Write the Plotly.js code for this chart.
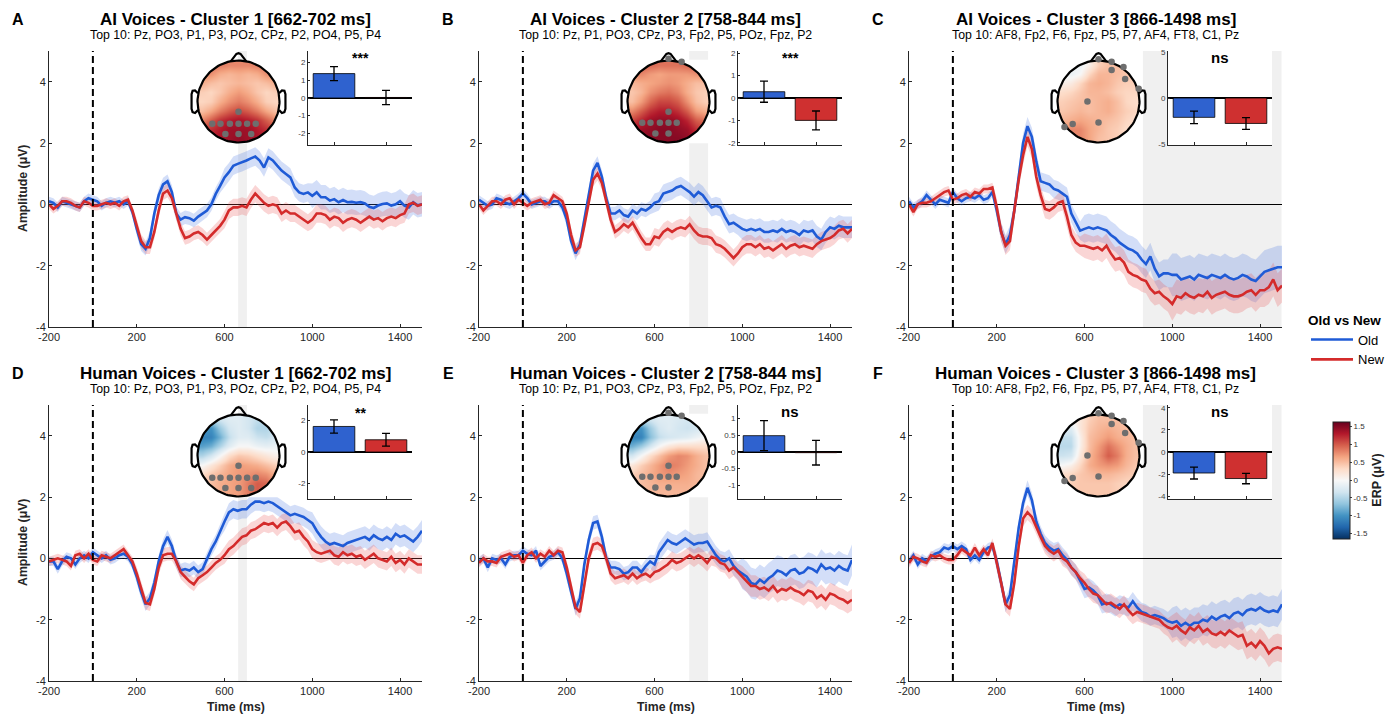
<!DOCTYPE html>
<html><head><meta charset="utf-8">
<script src="https://cdn.plot.ly/plotly-3.0.1.min.js"></script>
<style>html,body{margin:0;padding:0;background:#fff}</style>
</head><body><div id="chart" style="width:1399px;height:714px"></div>
<script>
const FONT = '"Liberation Sans", Arial, Helvetica, sans-serif';
const W = 1399, H = 714;

// ---------- time axis (ms) ----------
const time = [-200,-180,-160,-140,-120,-100,-80,-60,-40,-20,0,20,40,60,80,100,120,140,160,180,200,220,240,260,280,300,320,340,360,380,400,420,440,460,480,500,520,540,560,580,600,620,640,660,680,700,720,740,760,780,800,820,840,860,880,900,920,940,960,980,1000,1020,1040,1060,1080,1100,1120,1140,1160,1180,1200,1220,1240,1260,1280,1300,1320,1340,1360,1380,1400,1420,1440,1460,1480,1500];

// ---------- ERP means (µV) ----------
const oldA = [0.1,0.05,-0.1,0.1,0.05,0,-0.05,-0.1,0.1,0.2, 0.15,0.1,-0.05,0.05,0.1,0.05,0.1,0,0.1,-0.25, -0.8,-1.3,-1.45,-1.1,-0.3,0.3,0.65,0.75,0.4,-0.3, -0.5,-0.42,-0.45,-0.53,-0.4,-0.3,-0.2,0,0.34,0.6, 0.88,1.05,1.26,1.32,1.37,1.43,1.5,1.56,1.43,1.2, 1.53,1.43,1.26,1.1,0.99,0.88,0.55,0.39,0.34,0.39, 0.28,0.39,0.23,0.23,0.12,0.17,0.07,0.14,0.07,0.08, 0.05,0.07,0.03,-0.08,-0.12,-0.04,0.01,0.03,-0.04,0, 0.1,-0.04,-0.1,0.07,-0.03,0];
const newA = [0,-0.15,-0.05,0.1,0.1,0.05,-0.05,-0.1,0.1,0.05, -0.05,-0.05,0,0.05,0,0.05,-0.05,0.1,0.15,-0.2, -0.7,-1.2,-1.4,-1.4,-0.9,-0.2,0.35,0.45,0.2,-0.3, -0.8,-1.1,-1.05,-0.95,-0.9,-1.0,-1.15,-1.0,-0.85,-0.7, -0.5,-0.2,-0.1,-0.1,-0.05,-0.1,0.15,0.35,0.2,0.05, -0.05,0,-0.05,-0.3,-0.2,-0.3,-0.3,-0.4,-0.5,-0.6, -0.5,-0.3,-0.3,-0.35,-0.5,-0.4,-0.45,-0.6,-0.5,-0.45, -0.5,-0.6,-0.5,-0.4,-0.5,-0.45,-0.55,-0.45,-0.4,-0.45, -0.35,-0.3,0,0.05,-0.05,0];
const oldB = [0.15,0.05,-0.05,0,0.2,0.15,0.05,0,0.1,0.2, 0.35,0.2,0,0.05,0.1,0.1,0,0.1,0.1,-0.1, -0.5,-1.2,-1.6,-1.3,-0.5,0.4,1.1,1.35,0.9,0.2, -0.3,-0.3,-0.2,-0.35,-0.4,-0.2,-0.3,-0.15,-0.2,-0.1, 0.05,0.1,0.35,0.4,0.45,0.55,0.6,0.5,0.4,0.25, 0.4,0.3,0.1,-0.1,-0.05,-0.1,-0.4,-0.65,-0.6,-0.7, -0.8,-0.85,-0.8,-0.85,-0.8,-0.9,-0.9,-0.85,-0.9,-0.8, -0.9,-0.85,-0.9,-1.0,-0.85,-0.9,-0.85,-1.05,-1.15,-0.9, -0.75,-0.8,-0.7,-0.75,-0.75,-0.75];
const newB = [0,-0.2,-0.05,0.1,0.1,0,0.15,0.2,0,0.15, 0.05,-0.05,0.05,0.1,0.15,0,0.05,0.3,0.2,0.1, -0.3,-1.0,-1.5,-1.4,-0.7,0.1,0.8,1.0,0.7,0.1, -0.5,-0.9,-0.8,-0.65,-0.75,-0.6,-0.85,-1.1,-1.3,-1.3, -1.05,-1.1,-0.9,-0.8,-0.9,-0.8,-0.75,-0.8,-0.65,-0.85, -1.0,-1.05,-1.05,-1.1,-1.3,-1.35,-1.45,-1.6,-1.75,-1.6, -1.4,-1.3,-1.3,-1.4,-1.3,-1.45,-1.4,-1.5,-1.4,-1.3, -1.45,-1.35,-1.3,-1.4,-1.35,-1.4,-1.45,-1.3,-1.2,-1.15, -1.1,-1.0,-0.85,-0.8,-0.95,-0.8];
const oldC = [0.1,-0.1,0,0.1,0.3,0.15,0,0.15,0.1,0.05, 0.4,0.2,0.1,0.2,0.25,0.2,0.3,0.15,0.2,0.4, -0.2,-0.9,-1.3,-1.0,-0.2,0.9,2.0,2.55,2.2,1.4, 0.75,0.7,0.65,0.5,0.45,0.35,0.25,-0.3,-0.6,-0.86, -0.8,-0.75,-0.8,-0.75,-0.8,-0.85,-1.0,-1.1,-1.25,-1.35, -1.45,-1.5,-1.6,-1.8,-1.95,-1.7,-2.1,-2.35,-2.25,-2.25, -2.3,-2.3,-2.45,-2.4,-2.35,-2.45,-2.3,-2.35,-2.4,-2.3, -2.35,-2.4,-2.3,-2.4,-2.45,-2.4,-2.3,-2.35,-2.45,-2.5, -2.35,-2.2,-2.15,-2.1,-2.05,-2.05];
const newC = [0,-0.25,0,0.05,0.05,0.1,0.2,0.3,0.4,0.45, 0.15,0.2,0.3,0.35,0.25,0.4,0.35,0.5,0.5,0.55, -0.1,-0.9,-1.35,-1.2,-0.2,0.8,1.6,2.2,1.8,0.9, 0.3,-0.15,-0.2,-0.1,0.05,0.1,-0.4,-1.0,-1.25,-1.35, -1.35,-1.4,-1.45,-1.4,-1.5,-1.35,-1.6,-1.8,-1.75,-1.9, -2.2,-2.3,-2.35,-2.45,-2.5,-2.75,-2.9,-2.85,-3.0,-3.1, -3.25,-3.0,-3.05,-2.9,-3.0,-3.05,-2.95,-3.0,-2.85,-3.05, -2.95,-2.9,-2.85,-2.95,-3.0,-3.0,-2.95,-2.85,-2.8,-2.95, -2.8,-2.8,-2.7,-2.45,-2.8,-2.65];
const oldD = [-0.1,-0.1,-0.35,-0.1,0.05,0,-0.2,0,0.1,0, 0.2,0.1,0,0.1,-0.05,0,0.1,0.15,0.05,-0.2, -0.6,-1.1,-1.5,-1.3,-0.8,-0.1,0.4,0.7,0.4,-0.1, -0.4,-0.35,-0.4,-0.3,-0.45,-0.35,0,0.3,0.55,0.9, 1.2,1.5,1.6,1.55,1.6,1.6,1.75,1.85,1.85,1.8, 1.85,1.8,1.7,1.6,1.5,1.4,1.45,1.4,1.35,1.25, 1.15,0.9,0.7,0.55,0.45,0.5,0.45,0.4,0.5,0.55, 0.6,0.65,0.7,0.6,0.75,0.65,0.6,0.7,0.6,0.8, 0.7,0.75,0.65,0.55,0.7,0.9];
const newD = [-0.1,-0.05,0,-0.05,-0.1,-0.25,0.1,0.15,0,0.15, -0.05,-0.1,0.1,0.05,0,0.1,0.2,0.3,0.1,-0.1, -0.5,-1.0,-1.45,-1.5,-1.0,-0.3,0.1,0.15,0.15,-0.1, -0.45,-0.6,-0.75,-0.85,-0.65,-0.55,-0.45,-0.3,-0.15,-0.05, 0.1,0.3,0.4,0.55,0.7,0.75,0.9,0.95,1.05,1.15, 1.1,1.15,1.0,1.15,1.2,1.05,0.85,0.9,0.7,0.55, 0.3,0.2,0.15,0.2,0.25,0.1,0.05,0.2,0.1,0.15, 0.05,0.1,-0.05,0.05,0.15,0,-0.05,-0.1,0.05,-0.15, -0.05,-0.2,0,-0.1,-0.2,-0.2];
const oldE = [-0.1,0,-0.3,0,-0.05,0,-0.2,0.05,0.1,0.1, 0.25,0.15,0.1,0.25,-0.25,-0.1,0.05,0.1,0.2,0, -0.5,-1.1,-1.65,-1.3,-0.2,0.6,1.15,1.2,0.7,0, -0.3,-0.3,-0.35,-0.5,-0.45,-0.3,-0.3,-0.45,-0.25,-0.1, -0.2,0.2,0.4,0.6,0.5,0.45,0.55,0.65,0.55,0.45, 0.5,0.5,0.55,0.3,0.1,-0.05,-0.1,0,-0.25,-0.4, -0.5,-0.6,-0.8,-0.85,-0.7,-0.8,-0.65,-0.55,-0.4,-0.45, -0.55,-0.4,-0.35,-0.5,-0.45,-0.3,-0.35,-0.45,-0.2,-0.35, -0.3,-0.4,-0.25,-0.35,-0.4,-0.05];
const newE = [-0.15,0,-0.1,-0.1,-0.15,0.05,0.1,0.15,0.05,0.1, -0.15,0.1,0.2,0,0.15,0.05,0.25,0.1,0.25,0.2, -0.3,-1.0,-1.6,-1.75,-0.9,0,0.45,0.5,0.4,0, -0.5,-0.65,-0.6,-0.55,-0.65,-0.5,-0.65,-0.55,-0.5,-0.6, -0.45,-0.4,-0.3,-0.2,-0.05,-0.15,-0.1,0,0.1,0, 0.1,0,-0.15,0.05,0,-0.15,-0.2,-0.4,-0.3,-0.45, -0.6,-0.75,-0.9,-0.9,-1.0,-0.95,-1.05,-0.9,-1.1,-1.0, -1.05,-0.95,-1.05,-1.1,-1.2,-1.05,-1.1,-1.3,-1.2,-1.35, -1.15,-1.2,-1.3,-1.35,-1.45,-1.35];
const oldF = [-0.1,0.1,-0.2,0,-0.1,0.05,0.15,0.2,0.35,0.3, 0.4,0.3,0.4,0.3,-0.05,0.1,-0.05,0.2,0.35,0.4, -0.1,-0.8,-1.5,-1.2,-0.1,1.0,1.8,2.3,1.9,1.2, 0.8,0.5,0.35,0.25,0.3,0.1,-0.05,-0.3,-0.45,-0.75, -1.0,-0.95,-1.05,-1.2,-1.5,-1.45,-1.5,-1.6,-1.5,-1.55, -1.6,-1.4,-1.6,-1.75,-1.8,-1.9,-1.85,-1.9,-1.95,-2.05, -2.1,-2.05,-2.2,-2.1,-2.2,-2.1,-2.1,-2.0,-2.05,-1.9, -2.0,-1.9,-1.85,-1.95,-1.8,-1.75,-1.85,-1.7,-1.65,-1.7, -1.6,-1.7,-1.75,-1.7,-1.75,-1.5];
const newF = [-0.15,0.05,0,-0.1,-0.15,0.1,0.05,0.1,0,-0.05, -0.05,0.1,0.3,0.2,0.1,0.35,0.1,0.3,0.1,0.5, -0.1,-0.8,-1.5,-1.65,-0.8,0.4,1.3,1.5,1.35,1.0, 0.7,0.4,0.25,0.15,0.25,0,-0.1,-0.3,-0.45,-0.65, -0.8,-1.0,-1.15,-1.2,-1.35,-1.5,-1.45,-1.55,-1.65,-1.5, -1.7,-1.85,-1.75,-1.8,-1.85,-1.9,-1.95,-2.0,-2.15,-2.25, -2.3,-2.2,-2.35,-2.45,-2.25,-2.35,-2.2,-2.4,-2.3,-2.45, -2.5,-2.4,-2.5,-2.35,-2.45,-2.55,-2.5,-2.85,-2.75,-2.9, -2.7,-2.85,-3.1,-2.95,-2.9,-2.95];

// ---------- confidence half-widths, per time window starting at ----------
const ciWindowStart = [-200, 200, 600, 1000];
const ciOldA = [0.15,0.22,0.3,0.4],  ciNewA = [0.15,0.22,0.28,0.3];
const ciOldB = [0.15,0.22,0.3,0.35], ciNewB = [0.15,0.22,0.28,0.3];
const ciOldC = [0.15,0.3,0.45,0.7],  ciNewC = [0.15,0.3,0.4,0.55];
const ciOldD = [0.15,0.22,0.3,0.35], ciNewD = [0.15,0.22,0.28,0.3];
const ciOldE = [0.15,0.22,0.3,0.5],  ciNewE = [0.15,0.22,0.28,0.35];
const ciOldF = [0.15,0.25,0.3,0.5],  ciNewF = [0.15,0.25,0.3,0.45];

// ---------- panel text & cluster windows ----------
const panelLetters = ['A','B','C','D','E','F'];
const panelTitles = ['AI Voices - Cluster 1 [662-702 ms]','AI Voices - Cluster 2 [758-844 ms]','AI Voices - Cluster 3 [866-1498 ms]','Human Voices - Cluster 1 [662-702 ms]','Human Voices - Cluster 2 [758-844 ms]','Human Voices - Cluster 3 [866-1498 ms]'];
const panelSubtitles = ['Top 10: Pz, PO3, P1, P3, POz, CPz, P2, PO4, P5, P4','Top 10: Pz, P1, PO3, CPz, P3, Fp2, P5, POz, Fpz, P2','Top 10: AF8, Fp2, F6, Fpz, P5, P7, AF4, FT8, C1, Pz','Top 10: Pz, PO3, P1, P3, POz, CPz, P2, PO4, P5, P4','Top 10: Pz, P1, PO3, CPz, P3, Fp2, P5, POz, Fpz, P2','Top 10: AF8, Fp2, F6, Fpz, P5, P7, AF4, FT8, C1, Pz'];
const windowStart = [662, 758, 866, 662, 758, 866];
const windowEnd   = [702, 844, 1498, 702, 844, 1498];

// ---------- inset bar values ----------
const barOld    = [1.38, 0.28, -2.1, 1.63, 0.49, -1.9];
const barOldErr = [0.40, 0.47, 0.67, 0.42, 0.45, 0.54];
const barNew    = [0.03, -1.0, -2.76, 0.78, -0.02, -2.4];
const barNewErr = [0.40, 0.42, 0.64, 0.41, 0.37, 0.47];
const sigLabels = ['***','***','ns','**','ns','ns'];
const insetLimit = [2.66, 2.1, 5.1, 3.0, 1.41, 4.25];
const insetTicks = [[-2,-1,0,1,2],[-2,-1,0,1,2],[-5,0,5],[-2,0,2],[-1,-0.5,0,0.5,1],[-4,-2,0,2,4]];
const insetTickText = [['-2','-1','0','1','2'],['-2','-1','0','1','2'],['-5','0','5'],['-2','0','2'],['-1','-0.5','0','0.5','1'],['-4','-2','0','2','4']];

// ---------- topography grids (rows front -> back, cols left -> right) ----------
const topoEdges = [-1,-0.7778,-0.5556,-0.3333,-0.1111,0.1111,0.3333,0.5556,0.7778,1];
const topoA = [
 [0.9,0.9,0.85,0.8,0.8,0.8,0.85,0.9,0.9],
 [0.8,0.75,0.6,0.55,0.6,0.55,0.6,0.75,0.8],
 [0.6,0.5,0.45,0.5,0.55,0.5,0.45,0.5,0.6],
 [0.4,0.35,0.45,0.6,0.7,0.6,0.45,0.35,0.4],
 [0.35,0.4,0.6,0.75,0.85,0.75,0.6,0.4,0.35],
 [0.5,0.65,0.85,1.0,1.1,1.0,0.85,0.65,0.5],
 [0.8,1.0,1.2,1.3,1.35,1.3,1.2,1.0,0.8],
 [1.1,1.2,1.3,1.4,1.4,1.4,1.3,1.2,1.1],
 [1.2,1.3,1.35,1.4,1.45,1.4,1.35,1.3,1.2]];
const topoB = [
 [1.0,1.0,0.95,0.9,0.9,0.9,0.95,1.0,1.0],
 [0.8,0.8,0.7,0.65,0.7,0.7,0.7,0.75,0.8],
 [0.55,0.6,0.65,0.7,0.75,0.7,0.6,0.5,0.5],
 [0.45,0.55,0.75,0.85,0.9,0.8,0.6,0.45,0.4],
 [0.5,0.7,0.95,1.1,1.1,1.0,0.75,0.5,0.4],
 [0.8,1.0,1.2,1.3,1.3,1.2,1.0,0.7,0.6],
 [1.1,1.25,1.4,1.45,1.45,1.4,1.25,1.0,0.9],
 [1.3,1.4,1.45,1.5,1.5,1.45,1.4,1.2,1.1],
 [1.35,1.45,1.5,1.5,1.5,1.5,1.45,1.3,1.2]];
const topoC = [
 [0.0,-0.1,-0.1,0.1,0.4,0.5,0.5,0.5,0.5],
 [-0.05,-0.1,0.0,0.35,0.55,0.55,0.5,0.45,0.45],
 [0.1,0.15,0.35,0.55,0.6,0.55,0.45,0.4,0.4],
 [0.3,0.35,0.45,0.55,0.55,0.5,0.4,0.35,0.35],
 [0.4,0.45,0.5,0.5,0.55,0.6,0.5,0.35,0.3],
 [0.45,0.5,0.55,0.5,0.55,0.6,0.5,0.4,0.35],
 [0.55,0.6,0.65,0.6,0.55,0.5,0.45,0.35,0.3],
 [0.7,0.8,0.8,0.65,0.55,0.45,0.4,0.3,0.3],
 [0.7,0.8,0.8,0.65,0.5,0.45,0.4,0.3,0.3]];
const topoD = [
 [-0.6,-0.5,-0.3,-0.2,-0.2,-0.3,-0.4,-0.5,-0.5],
 [-0.9,-1.0,-0.6,-0.3,-0.2,-0.3,-0.5,-0.5,-0.4],
 [-1.1,-1.1,-0.8,-0.4,-0.2,-0.2,-0.35,-0.4,-0.3],
 [-0.9,-0.8,-0.5,-0.2,0.0,0.0,-0.1,-0.15,-0.1],
 [-0.5,-0.3,0.0,0.3,0.45,0.4,0.3,0.2,0.1],
 [0.0,0.2,0.4,0.6,0.7,0.65,0.6,0.5,0.4],
 [0.3,0.45,0.55,0.65,0.7,0.75,0.8,0.75,0.6],
 [0.4,0.5,0.6,0.65,0.7,0.85,1.0,0.95,0.7],
 [0.4,0.5,0.6,0.65,0.7,0.85,1.0,0.9,0.7]];
const topoE = [
 [-0.5,-0.4,-0.3,-0.2,-0.2,-0.25,-0.3,-0.3,-0.3],
 [-0.9,-1.0,-0.6,-0.3,-0.2,-0.3,-0.35,-0.3,-0.2],
 [-1.1,-1.1,-0.7,-0.4,-0.3,-0.25,-0.2,-0.1,0.0],
 [-0.8,-0.6,-0.3,0.0,0.2,0.3,0.3,0.3,0.3],
 [-0.3,0.0,0.3,0.5,0.7,0.8,0.75,0.6,0.5],
 [0.2,0.4,0.55,0.7,0.85,0.8,0.7,0.6,0.5],
 [0.4,0.5,0.6,0.7,0.75,0.7,0.65,0.55,0.5],
 [0.45,0.5,0.55,0.6,0.6,0.6,0.6,0.55,0.5],
 [0.45,0.5,0.55,0.55,0.55,0.55,0.55,0.5,0.5]];
const topoF = [
 [-0.1,0.1,0.2,0.4,0.5,0.5,0.5,0.5,0.5],
 [-0.2,-0.2,0.2,0.45,0.55,0.6,0.55,0.5,0.5],
 [-0.4,-0.4,0.1,0.5,0.6,0.7,0.6,0.55,0.5],
 [-0.45,-0.45,0.1,0.5,0.7,0.9,0.75,0.6,0.5],
 [-0.35,-0.3,0.2,0.55,0.75,1.0,0.85,0.6,0.5],
 [0.0,0.1,0.35,0.6,0.7,0.75,0.7,0.55,0.45],
 [0.3,0.35,0.45,0.5,0.55,0.55,0.5,0.45,0.4],
 [0.4,0.4,0.45,0.45,0.45,0.45,0.4,0.35,0.35],
 [0.4,0.4,0.45,0.45,0.45,0.45,0.4,0.35,0.35]];

// ---------- cluster electrodes (head radius = 1) ----------
const elecC1X = [0,-0.64,-0.44,-0.21,0,0.21,0.42,-0.32,0,0.31];
const elecC1Y = [-0.25,-0.54,-0.54,-0.54,-0.54,-0.54,-0.54,-0.79,-0.79,-0.79];
const elecC2X = [0,0.32,0,-0.64,-0.44,-0.21,0,0.2,-0.32,0];
const elecC2Y = [1.04,0.97,-0.25,-0.52,-0.52,-0.52,-0.52,-0.52,-0.78,-0.78];
const elecC3X = [0,0.32,0.61,0.32,0.65,0.98,-0.27,0,-0.63,-0.83];
const elecC3Y = [1.03,0.97,0.84,0.77,0.55,0.31,0,-0.51,-0.55,-0.62];

const erpScale = [[0,'#053061'],[0.1,'#2166ac'],[0.2,'#4393c3'],[0.3,'#92c5de'],[0.4,'#d1e5f0'],[0.5,'#f7f7f7'],[0.6,'#fddbc7'],[0.7,'#f4a582'],[0.8,'#d6604d'],[0.9,'#b2182b'],[1,'#67001f']];
const erpLimit = 1.64;

const oldSeries = [oldA,oldB,oldC,oldD,oldE,oldF];
const newSeries = [newA,newB,newC,newD,newE,newF];
const ciOldSeries = [ciOldA,ciOldB,ciOldC,ciOldD,ciOldE,ciOldF];
const ciNewSeries = [ciNewA,ciNewB,ciNewC,ciNewD,ciNewE,ciNewF];
const topoSeries = [topoA,topoB,topoC,topoD,topoE,topoF];
const elecX = [elecC1X,elecC2X,elecC3X,elecC1X,elecC2X,elecC3X];
const elecY = [elecC1Y,elecC2Y,elecC3Y,elecC1Y,elecC2Y,elecC3Y];

const OLD_LINE = '#1f5bd6', NEW_LINE = '#d42b2b';
const OLD_FILL = 'rgba(70,115,225,0.24)', NEW_FILL = 'rgba(235,80,80,0.24)';
const OLD_BAR = '#2f62cf', NEW_BAR = '#cf3030';
const AXC = '#262626';

function ciAt(vals, t){ let idx = 0; for (let w = 0; w < ciWindowStart.length; w++) if (t >= ciWindowStart[w]) idx = w; return vals[idx]; }
function sfx(n){ return n === 1 ? '' : String(n); }
const fx = p => p / W, fy = p => 1 - p / H;

// head outline geometry
const circX = [], circY = [];
for (let a = 0; a <= 360; a += 3){ circX.push(Math.cos(a*Math.PI/180)); circY.push(Math.sin(a*Math.PI/180)); }
const maskX = [-1.02,1.02,1.02,-1.02,-1.02,null], maskY = [-1.02,-1.02,1.02,1.02,-1.02,null];
for (let a = 0; a >= -360; a -= 3){ maskX.push(Math.cos(a*Math.PI/180)); maskY.push(Math.sin(a*Math.PI/180)); }
const headX = circX.concat([null,-0.19,-0.05,0,0.05,0.19,null,-0.99,-1.06,-1.12,-1.145,-1.145,-1.12,-1.06,-0.99,null,0.99,1.06,1.12,1.145,1.145,1.12,1.06,0.99]);
const headY = circY.concat([null,0.98,1.16,1.18,1.16,0.98,null,0.2,0.27,0.26,0.18,-0.18,-0.26,-0.28,-0.21,null,0.2,0.27,0.26,0.18,-0.18,-0.26,-0.28,-0.21]);

const data = [];
const layout = {
  width: W, height: H, margin: {l:0, r:0, t:0, b:0},
  paper_bgcolor: '#ffffff', plot_bgcolor: 'rgba(0,0,0,0)',
  font: {family: FONT, color: AXC},
  hovermode: false, showlegend: true,
  legend: {x: fx(1306), y: fy(307), xanchor: 'left', yanchor: 'top', bgcolor: 'rgba(0,0,0,0)',
           font: {size: 13, family: FONT, color: '#000'}, tracegroupgap: 0, itemwidth: 42,
           title: {text: '<b>Old vs New</b>', font: {size: 13.5, family: FONT, color: '#000'}}},
  shapes: [], annotations: []
};

for (let i = 0; i < 6; i++){
  const col = i % 3, row = Math.floor(i / 3);
  const L = [49, 479, 909][col], T = [51, 405][row];
  const R = L + 373, B = T + 276;
  const n = i + 1, ni = i + 7, nt = i + 13;
  const xm = 'x' + sfx(n), ym = 'y' + sfx(n);

  layout['xaxis' + sfx(n)] = {domain: [fx(L), fx(R)], anchor: ym, range: [-200, 1500],
    tickvals: [-200,200,600,1000,1400], ticktext: ['-200','200','600','1000','1400'],
    ticks: 'inside', ticklen: 3, tickcolor: AXC, showline: true, linecolor: AXC, linewidth: 1,
    showgrid: false, zeroline: false, tickfont: {size: 11, color: AXC, family: FONT}, fixedrange: true};
  layout['yaxis' + sfx(n)] = {domain: [fy(B), fy(T)], anchor: xm, range: [-4, 5],
    tickvals: [-4,-2,0,2,4], ticktext: ['-4','-2','0','2','4'],
    ticks: 'inside', ticklen: 3, tickcolor: AXC, showline: true, linecolor: AXC, linewidth: 1,
    showgrid: false, zeroline: true, zerolinecolor: '#000', zerolinewidth: 1,
    tickfont: {size: 11, color: AXC, family: FONT}, fixedrange: true};

  // cluster window shading
  layout.shapes.push({type: 'rect', xref: xm, yref: ym, x0: windowStart[i], x1: windowEnd[i], y0: -4, y1: 5,
    fillcolor: '#f0f0f0', line: {width: 0}, layer: 'below'});
  // stimulus onset
  layout.shapes.push({type: 'line', xref: xm, yref: ym, x0: 0, x1: 0, y0: -4, y1: 5,
    line: {color: '#000', width: 2, dash: '7px,4px'}, layer: 'above'});

  const o = oldSeries[i], nw = newSeries[i];
  const tRev = time.slice().reverse();
  const oUp = o.map((v, k) => v + ciAt(ciOldSeries[i], time[k]));
  const oLo = o.map((v, k) => v - ciAt(ciOldSeries[i], time[k])).reverse();
  const nUp = nw.map((v, k) => v + ciAt(ciNewSeries[i], time[k]));
  const nLo = nw.map((v, k) => v - ciAt(ciNewSeries[i], time[k])).reverse();
  data.push({type: 'scatter', mode: 'lines', x: time.concat(tRev), y: oUp.concat(oLo), fill: 'toself',
    fillcolor: OLD_FILL, line: {width: 0}, xaxis: xm, yaxis: ym, showlegend: false, hoverinfo: 'skip'});
  data.push({type: 'scatter', mode: 'lines', x: time.concat(tRev), y: nUp.concat(nLo), fill: 'toself',
    fillcolor: NEW_FILL, line: {width: 0}, xaxis: xm, yaxis: ym, showlegend: false, hoverinfo: 'skip'});
  data.push({type: 'scatter', mode: 'lines', x: time, y: o, name: 'Old', legendgroup: 'old',
    line: {color: OLD_LINE, width: 2.6}, xaxis: xm, yaxis: ym, showlegend: i === 0});
  data.push({type: 'scatter', mode: 'lines', x: time, y: nw, name: 'New', legendgroup: 'new',
    line: {color: NEW_LINE, width: 2.6}, xaxis: xm, yaxis: ym, showlegend: i === 0});

  // ----- inset bar chart -----
  const xi = 'x' + ni, yi = 'y' + ni;
  const lim = insetLimit[i];
  layout['xaxis' + ni] = {domain: [fx(L + 259), fx(L + 363)], anchor: yi, range: [0.5, 2.5],
    tickvals: [1, 2], showticklabels: false, ticks: 'inside', ticklen: 3, tickcolor: AXC,
    showline: true, linecolor: AXC, linewidth: 1, showgrid: false, zeroline: false, fixedrange: true};
  layout['yaxis' + ni] = {domain: [fy(T + 94), fy(T)], anchor: xi, range: [-lim, lim],
    tickvals: insetTicks[i], ticktext: insetTickText[i], ticks: 'inside', ticklen: 2, tickcolor: AXC,
    showline: true, linecolor: AXC, linewidth: 1, showgrid: false, zeroline: true,
    zerolinecolor: '#000', zerolinewidth: 1.2, tickfont: {size: 8, color: '#404040', family: FONT}, fixedrange: true};
  layout.shapes.push({type: 'rect', xref: xi, yref: yi, x0: 0.5, x1: 2.5, y0: -lim, y1: lim,
    fillcolor: '#ffffff', line: {width: 0}, layer: 'below'});
  data.push({type: 'bar', x: [1], y: [barOld[i]], width: [0.8], xaxis: xi, yaxis: yi, showlegend: false,
    marker: {color: OLD_BAR, line: {color: '#000', width: 0.8}},
    error_y: {type: 'data', array: [barOldErr[i]], visible: true, color: '#000', thickness: 1.3, width: 4}, hoverinfo: 'skip'});
  data.push({type: 'bar', x: [2], y: [barNew[i]], width: [0.8], xaxis: xi, yaxis: yi, showlegend: false,
    marker: {color: NEW_BAR, line: {color: '#000', width: 0.8}},
    error_y: {type: 'data', array: [barNewErr[i]], visible: true, color: '#000', thickness: 1.3, width: 4}, hoverinfo: 'skip'});
  const isNs = sigLabels[i] === 'ns';
  layout.annotations.push({xref: xi, yref: yi + ' domain', x: 1.5, y: isNs ? 0.93 : (row === 0 ? 0.93 : 0.92),
    text: '<b>' + sigLabels[i] + '</b>', showarrow: false, xanchor: 'center', yanchor: 'middle',
    font: {size: isNs ? 15 : 14, color: '#000', family: FONT}});

  // ----- topography -----
  const xt = 'x' + nt, yt = 'y' + nt;
  const cx = L + 189.5, cy = T + 50.5, half = 52, rng = half / 41;
  layout['xaxis' + nt] = {domain: [fx(cx - half), fx(cx + half)], anchor: yt, range: [-rng, rng], visible: false, fixedrange: true};
  layout['yaxis' + nt] = {domain: [fy(cy + half), fy(cy - half)], anchor: xt, range: [-rng, rng], visible: false, fixedrange: true};
  const hm = {type: 'heatmap', x: topoEdges, y: topoEdges, z: topoSeries[i].slice().reverse(), zsmooth: 'best',
    colorscale: erpScale, zmin: -erpLimit, zmax: erpLimit, xaxis: xt, yaxis: yt, hoverinfo: 'skip', showscale: i === 0};
  if (i === 0){
    hm.colorbar = {x: fx(1333), xanchor: 'left', xref: 'paper', xpad: 0, y: fy(480), yanchor: 'middle', ypad: 0,
      len: 117, lenmode: 'pixels', thickness: 17, thicknessmode: 'pixels', outlinewidth: 1, outlinecolor: '#222',
      tickvals: [-1.5,-1,-0.5,0,0.5,1,1.5], ticktext: ['-1.5','-1','-0.5','0','0.5','1','1.5'],
      ticks: 'outside', ticklen: 2, tickcolor: '#444', tickfont: {size: 8, color: '#333', family: FONT},
      title: {text: '<b>ERP (μV)</b>', side: 'right', font: {size: 12.5, color: '#222', family: FONT}}};
  }
  data.push(hm);
  data.push({type: 'scatter', mode: 'lines', x: maskX, y: maskY, fill: 'toself', fillcolor: '#ffffff',
    line: {width: 0}, xaxis: xt, yaxis: yt, showlegend: false, hoverinfo: 'skip'});
  data.push({type: 'scatter', mode: 'lines', x: headX, y: headY, line: {color: '#000', width: 2.2},
    xaxis: xt, yaxis: yt, showlegend: false, hoverinfo: 'skip'});
  data.push({type: 'scatter', mode: 'markers', x: elecX[i], y: elecY[i], cliponaxis: false,
    marker: {size: 6.5, color: '#6e6e6e'}, xaxis: xt, yaxis: yt, showlegend: false, hoverinfo: 'skip'});

  // ----- titles -----
  const midX = fx((L + R) / 2);
  layout.annotations.push({xref: 'paper', yref: 'paper', x: fx(L - 31), y: fy(row === 0 ? 19 : 373),
    text: '<b>' + panelLetters[i] + '</b>', showarrow: false, xanchor: 'center', yanchor: 'middle',
    font: {size: 16, color: '#000', family: FONT}});
  layout.annotations.push({xref: 'paper', yref: 'paper', x: midX, y: fy(row === 0 ? 19.7 : 373),
    text: '<b>' + panelTitles[i] + '</b>', showarrow: false, xanchor: 'center', yanchor: 'middle',
    font: {size: 17, color: '#000', family: FONT}});
  layout.annotations.push({xref: 'paper', yref: 'paper', x: midX, y: fy(row === 0 ? 35 : 389.3),
    text: panelSubtitles[i], showarrow: false, xanchor: 'center', yanchor: 'middle',
    font: {size: 12.3, color: '#000', family: FONT}});
  if (col === 0){
    layout.annotations.push({xref: 'paper', yref: 'paper', x: fx(23), y: fy((T + B) / 2), textangle: -90,
      text: '<b>Amplitude (μV)</b>', showarrow: false, xanchor: 'center', yanchor: 'middle',
      font: {size: 12.3, color: '#262626', family: FONT}});
  }
  if (row === 1){
    layout.annotations.push({xref: 'paper', yref: 'paper', x: midX, y: fy(707),
      text: '<b>Time (ms)</b>', showarrow: false, xanchor: 'center', yanchor: 'middle',
      font: {size: 12.3, color: '#262626', family: FONT}});
  }
}

Plotly.newPlot('chart', data, layout, {displayModeBar: false, staticPlot: true});
</script></body></html>
